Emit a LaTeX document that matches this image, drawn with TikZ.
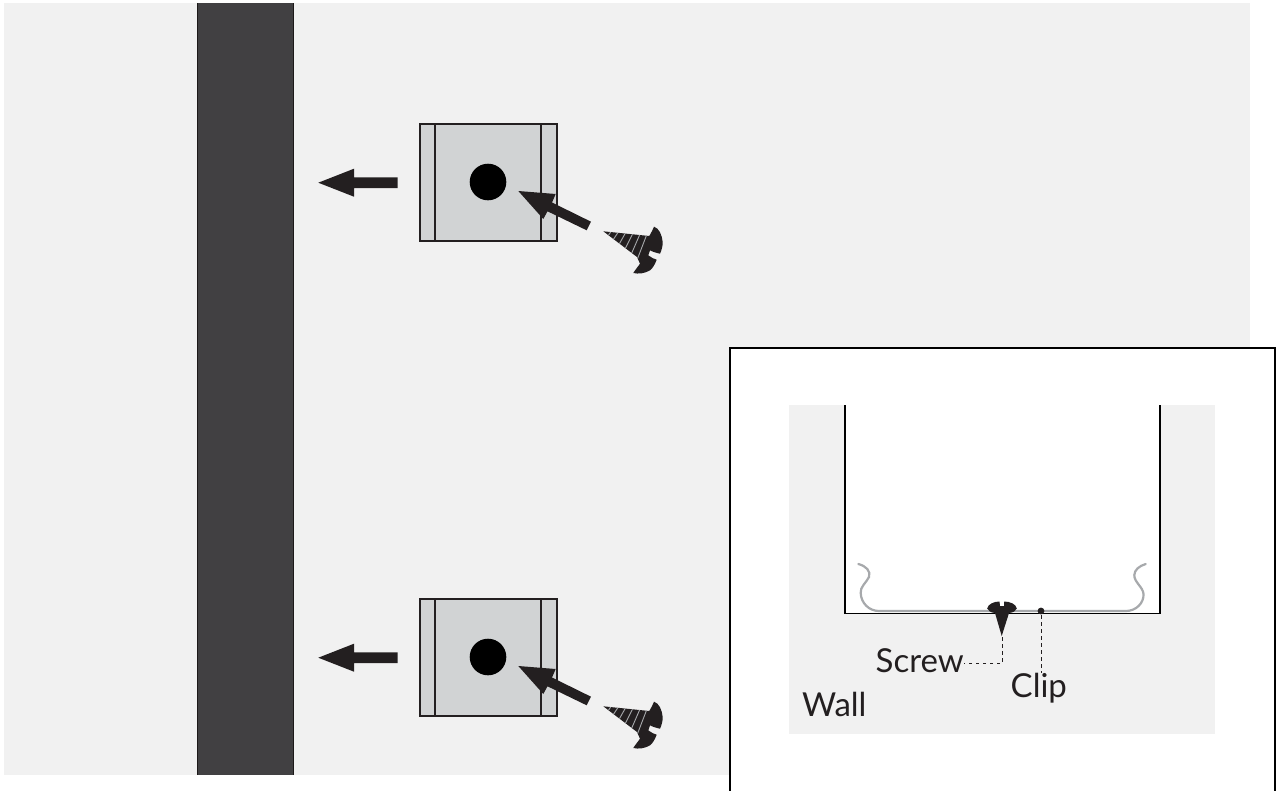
\documentclass[tikz,border=0pt]{standalone}
\usepackage{fontspec}
\setmainfont{Lato}
\definecolor{bggrey}{HTML}{F1F1F1}
\definecolor{bardark}{HTML}{414042}
\definecolor{plate}{HTML}{D1D3D4}
\definecolor{inkk}{HTML}{231F20}
\definecolor{clipgrey}{HTML}{A7A9AC}
\tikzset{
  x=1pt,y=-1pt,
  platebox/.style={draw=inkk,line width=1.3pt,fill=plate},
  plateline/.style={draw=inkk,line width=1.3pt},
  solidink/.style={fill=inkk,draw=none},
  clipline/.style={draw=clipgrey,line width=2.2pt,line cap=round},
  wallline/.style={draw=black,line width=1.3pt},
  leader/.style={draw=inkk,line width=1pt,dash pattern=on 3.5pt off 3.5pt},
  label/.style={font=\fontsize{33}{36}\selectfont,text=inkk,inner sep=0pt,anchor=base west},
  unit/.pic={
    \path[platebox] (420,124) rectangle (557,241);
    \path[plateline] (435,124) -- (435,241) (541,124) -- (541,241);
    \fill[black] (488,182) circle (18.3);
    % left arrow
    \path[solidink] (318.3,182.7) -- (354,168.7) -- (354,177.3) -- (397.5,177.3) -- (397.5,188) -- (354,188) -- (354,196.7) -- cycle;
    % diagonal arrow
    \path[solidink] (518.3,191) -- (555.7,194) -- (552,202.5) -- (591,221.7) -- (586.7,230.3) -- (547.5,211.3) -- (543.3,219) -- cycle;
    % screw
    \path[solidink,save path=\screwpath] (603.3,231.3) -- (649.3,236)
        .. controls (651.5,233) and (652.5,229.5) .. (654,226.7)
        .. controls (659,228) and (662,235) .. (662.7,242)
        .. controls (662.8,246) and (661.5,250.5) .. (660,253.7)
        .. controls (657,253) and (653,252) .. (650,250.3)
        -- (648.3,255.3)
        .. controls (651,257.5) and (654,259) .. (656.7,259.7)
        .. controls (655,264) and (653,268) .. (650,270.3)
        .. controls (645,273.5) and (638,274.2) .. (633.3,273)
        .. controls (635.5,269.5) and (638,266.5) .. (640,263.7)
        -- (637,257) -- cycle;
    \begin{scope}
      \clip[use path=\screwpath];
      \draw[clipgrey,line width=.9pt]
        (612,230) -- (606,239)
        (619,231) -- (611,243)
        (626,232) -- (617,248)
        (633,233) -- (623,253)
        (640,234) -- (630,257)
        (647,234) -- (637,260);
    \end{scope}
  }
}
\begin{document}
\begin{tikzpicture}
\useasboundingbox (0,0) rectangle (1281,790);
\fill[white] (0,0) rectangle (1281,790);
\fill[bggrey] (4,3) rectangle (1250,775);
\fill[bardark] (197,3) rectangle (293,775);
\draw[inkk!80!black,line width=.8pt] (197,3) -- (197,775) (293,3) -- (293,775);
\pic at (0,0) {unit};
\pic at (0,475) {unit};
% inset
\begin{scope}
\clip (0,0) rectangle (1281,790);
\draw[draw=black,line width=1.3pt,fill=white] (730,348) rectangle (1275,800);
\end{scope}
\fill[bggrey] (789,405) rectangle (1215,734);
\fill[white] (845,405) rectangle (1160,613);
% clip
\draw[clipline] (858.3,564) .. controls (866,566) and (871,571) .. (869,577)
  .. controls (866,583) and (860,587) .. (860.7,593)
  .. controls (861,603) and (869,611) .. (879,611)
  -- (1126,611)
  .. controls (1136,611) and (1144,603) .. (1143.5,594)
  .. controls (1143,587) and (1134,582) .. (1134.3,575)
  .. controls (1134.5,570) and (1139,566) .. (1145.7,564);
\draw[wallline] (845,405) -- (845,613.5) -- (1160,613.5) -- (1160,405);
% screw
\path[solidink] (1001.7,636) -- (995,613)
  .. controls (991,612.5) and (988,611) .. (987.2,608.5)
  .. controls (988,604) and (994,601.5) .. (999.5,601.5)
  -- (1000,606) -- (1004,606) -- (1004,601.5)
  .. controls (1010,601.5) and (1016,604) .. (1016.8,608.5)
  .. controls (1016,611) and (1013,612.5) .. (1009,613) -- cycle;
\fill[inkk] (1041,611) circle (3.4);
\node[label] (screwlabel) at (875.5,672) {Screw};
\node[label] (cliplabel) at (1010.5,697) {Clip};
\node[label] (walllabel) at (802,716) {Wall};
\coordinate (screwtip) at (1002,637);
\coordinate (screwbend) at (1002,663);
\coordinate (clipdot) at (1041,615);
\draw[leader] (screwtip) -- (screwbend) -- (screwlabel.east |- screwbend);
\draw[leader] (clipdot) -- (cliplabel.north -| clipdot);
\end{tikzpicture}
\end{document}
